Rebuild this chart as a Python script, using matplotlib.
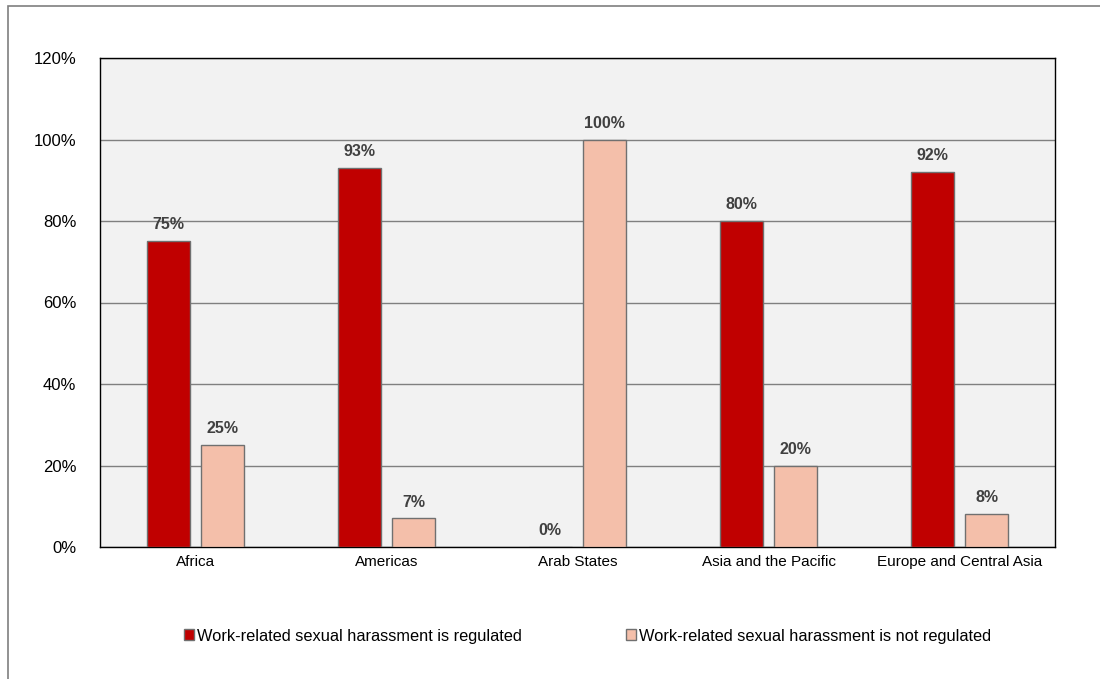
import matplotlib.pyplot as plt
import numpy as np
from matplotlib.patches import Rectangle

regions = ["Africa", "Americas", "Arab States", "Asia and the Pacific", "Europe and Central Asia"]
regulated = [75, 93, 0, 80, 92]
not_regulated = [25, 7, 100, 20, 8]
labels = ["Work-related sexual harassment is regulated",
          "Work-related sexual harassment is not regulated"]

plt.rcParams["font.family"] = ["Liberation Sans", "DejaVu Sans"]

fig = plt.figure(figsize=(11, 6.79), dpi=100)
# outer frame
fig.patches.append(Rectangle((8 / 1100, -0.1), 1.2, 1 - 6 / 679 + 0.1, transform=fig.transFigure,
                             fill=False, edgecolor="#7f7f7f", linewidth=1.2))

ax = fig.add_axes([100 / 1100, 1 - 547 / 679, 955 / 1100, (547 - 58) / 679])
ax.set_facecolor("#F2F2F2")

x = np.arange(len(regions))
w = 0.225
off = 0.143
b1 = ax.bar(x - off, regulated, w, color="#C00000", edgecolor="#707070", linewidth=1, label=labels[0], zorder=3)
b2 = ax.bar(x + off, not_regulated, w, color="#F4BFAA", edgecolor="#707070", linewidth=1, label=labels[1], zorder=3)

for bars in (b1, b2):
    for r in bars:
        h = r.get_height()
        ax.text(r.get_x() + r.get_width() / 2, h + 2.2, f"{h:.0f}%", ha="center", va="bottom",
                fontsize=11.5, fontweight="bold", color="#404040")

ax.set_xlim(-0.5, len(regions) - 0.5)
ax.set_ylim(0, 120)
ax.set_yticks(range(0, 121, 20))
ax.set_yticklabels([f"{v}%" for v in range(0, 121, 20)])
ax.set_xticks(x)
ax.set_xticklabels(regions)
ax.tick_params(axis="both", length=0, colors="black")
ax.tick_params(axis="y", pad=17, labelsize=12)
ax.tick_params(axis="x", pad=6, labelsize=11)
ax.yaxis.grid(True, color="#808080", linewidth=1, zorder=0)
ax.set_axisbelow(True)
for s in ax.spines.values():
    s.set_color("black")
    s.set_linewidth(1)

fig.legend(loc="center", bbox_to_anchor=(0.534, 1 - 636 / 679), ncol=2, frameon=False,
           fontsize=11.8, handlelength=0.65, handleheight=0.65, handletextpad=0.15,
           columnspacing=6.35)

fig.savefig("out.png", dpi=100)
